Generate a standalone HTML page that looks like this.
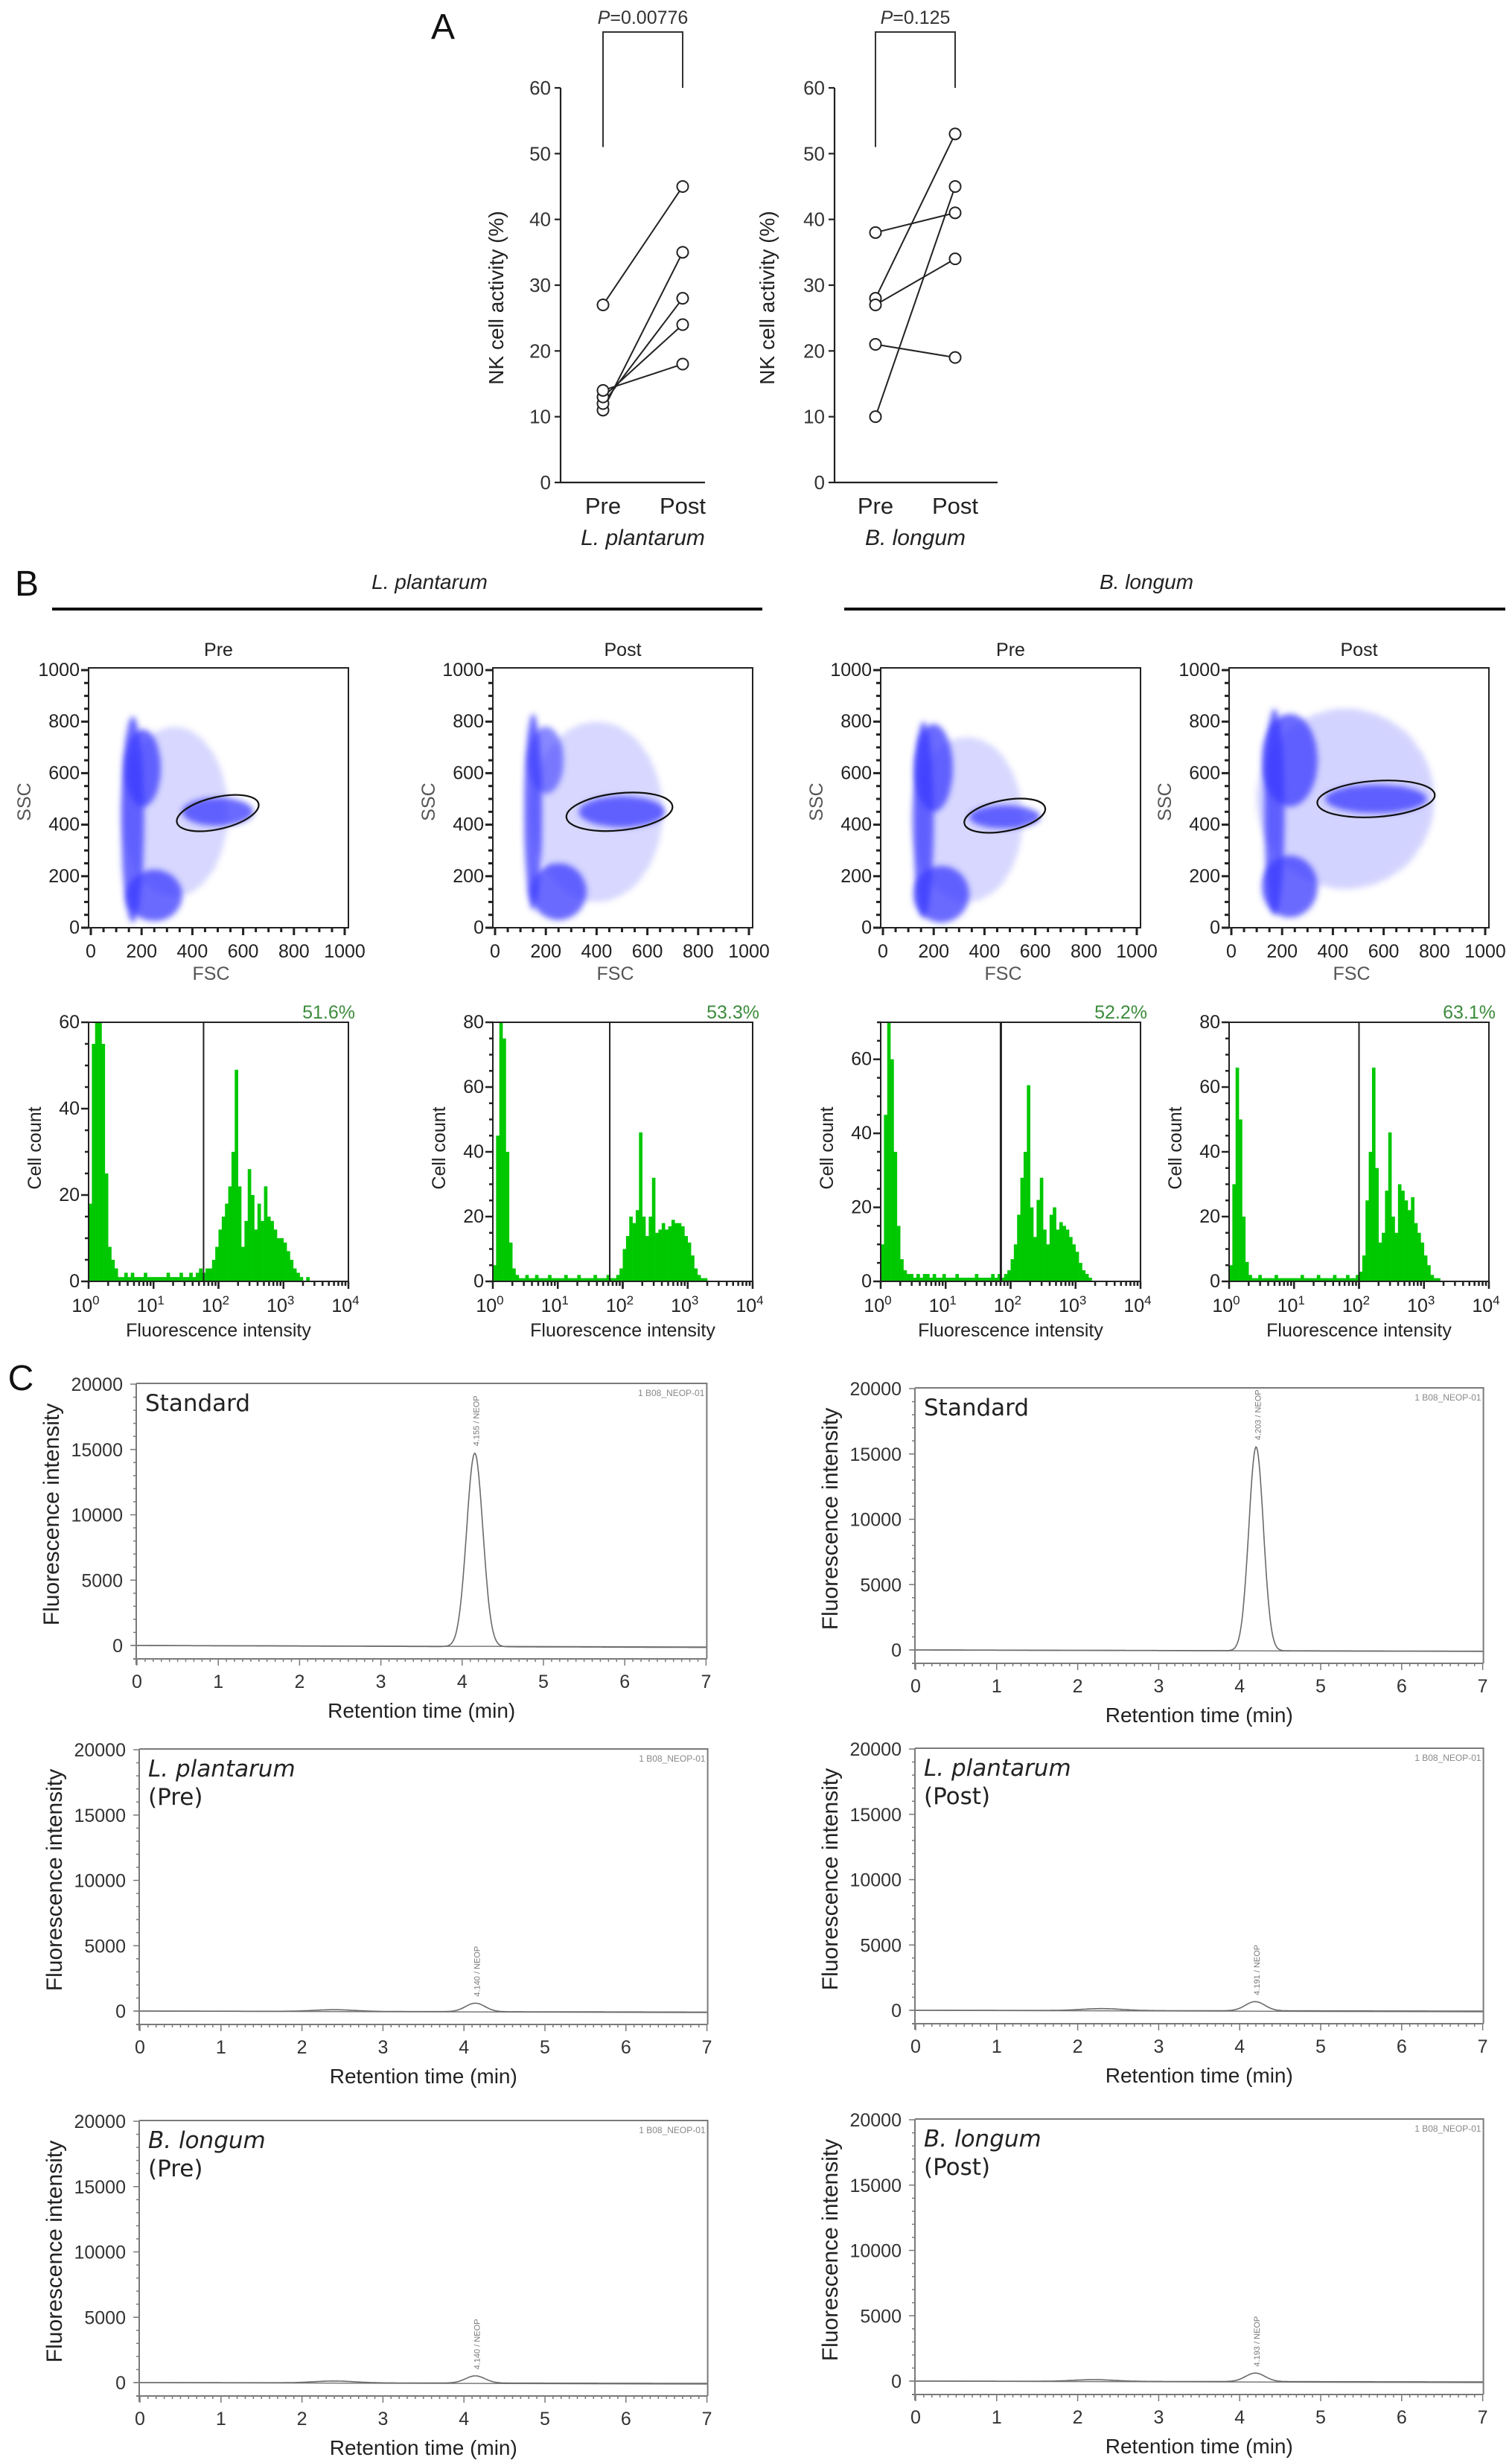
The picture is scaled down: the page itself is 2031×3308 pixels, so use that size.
<!DOCTYPE html>
<html><head><meta charset="utf-8"><title>NK cell activity figure</title>
<style>
html,body{margin:0;padding:0;background:#fff;}
svg{display:block;font-family:"Liberation Sans",Arial,sans-serif;}
</style></head>
<body>
<svg id="fig" xmlns="http://www.w3.org/2000/svg" width="2031" height="3308" viewBox="0 0 2031 3308">
<defs>
<filter id="soft" x="-30%" y="-30%" width="160%" height="160%"><feGaussianBlur stdDeviation="4"/></filter>
<pattern id="dots" width="4" height="4" patternUnits="userSpaceOnUse"><rect width="4" height="4" fill="#4a4aff" opacity="0.55"/><circle cx="2" cy="2" r="1.5" fill="#2a2aff"/></pattern>
<pattern id="sparse" width="7" height="7" patternUnits="userSpaceOnUse"><rect width="7" height="7" fill="#6a6aff" opacity="0.25"/><circle cx="2" cy="2" r="1.4" fill="#3030ff"/><circle cx="5.5" cy="5" r="1.2" fill="#3030ff"/></pattern>
</defs>
</svg>
<script>
// ---------- Panel A data ----------
const aCategories = ['Pre', 'Post'];
const aTicks = [0, 10, 20, 30, 40, 50, 60];
const lpPre = [27, 11, 12, 13, 14];
const lpPost = [45, 35, 28, 24, 18];
const blPre = [38, 28, 27, 21, 10];
const blPost = [41, 53, 34, 19, 45];
const aPvalues = ['0.00776', '0.125'];
// ---------- Panel B data ----------
const scatterTicks = [0, 200, 400, 600, 800, 1000];
const histDecades = [0, 1, 2, 3, 4];
const histPercents = ['51.6%', '53.3%', '52.2%', '63.1%'];
const histYMax = [60, 80, 70, 80];
const histYTicks = [[0, 20, 40, 60], [0, 20, 40, 60, 80], [0, 20, 40, 60], [0, 20, 40, 60, 80]];
const histGates = [1.77, 1.8, 1.85, 2.0];
// 20 bins per decade, log10 from 0 to 4
const histLPpre = [18,55,75,70,55,25,8,5,3,1,1,2,1,2,1,1,1,2,1,1, 1,1,1,1,2,1,1,1,2,1,1,2,1,2,3,2,3,3,5,8, 12,15,18,22,30,49,22,8,14,26,20,12,18,14,22,15,14,12,10,10, 9,7,5,3,2,1,0,1,0,0,0,0,0,0,0,0,0,0,0,0];
const histLPpost = [5,45,85,75,40,12,4,2,1,1,2,1,1,2,1,1,1,2,1,1, 1,1,2,1,1,1,2,1,1,1,1,2,1,1,1,2,1,1,2,4, 10,14,20,18,22,46,20,14,20,32,15,16,18,16,17,19,18,18,17,14, 12,8,4,2,1,1,0,0,0,0,0,0,0,0,0,0,0,0,0,0];
const histBLpre = [10,45,75,60,35,15,6,3,2,2,1,2,1,2,2,1,2,1,1,2, 1,1,1,2,1,1,1,1,1,2,1,1,1,1,2,1,2,1,2,3, 6,10,18,28,35,53,20,12,22,28,14,10,18,20,14,16,15,14,12,10, 8,5,3,2,1,0,0,0,0,0,0,0,0,0,0,0,0,0,0,0];
const histBLpost = [5,30,66,50,20,6,2,1,1,2,1,1,1,1,2,1,1,1,1,1, 1,1,2,1,1,1,1,2,1,1,1,1,2,1,1,1,2,1,1,2, 3,8,25,40,66,35,12,15,28,46,20,15,30,28,25,22,26,18,15,12, 8,5,2,1,1,0,0,0,0,0,0,0,0,0,0,0,0,0,0,0];
// scatter clusters: FSC centre, SSC centre, FSC radius, SSC radius, density
const clLPpre = [[330,450,210,330,0.55],[165,420,45,400,1],[205,620,70,150,1],[500,450,140,55,1],[250,125,110,100,1]];
const clLPpost = [[400,450,260,350,0.55],[150,450,35,380,1],[200,650,70,130,0.8],[500,450,170,60,1],[250,140,110,110,1]];
const clBLpre = [[330,420,220,320,0.55],[160,420,40,380,1],[200,620,75,170,1],[480,430,140,45,1],[230,130,110,110,1]];
const clBLpost = [[450,500,350,350,0.6],[170,450,40,400,1],[230,650,110,180,1],[570,500,200,55,1],[230,160,110,120,1]];
// gate ellipse: FSC centre, SSC centre, FSC radius, SSC radius, angle(deg)
const gateLPpre = [500, 445, 165, 62, -13];
const gateLPpost = [490, 450, 210, 72, -6];
const gateBLpre = [480, 435, 162, 60, -11];
const gateBLpost = [570, 500, 232, 70, -4];
// ---------- Panel C data ----------
const cTicksX = [0, 1, 2, 3, 4, 5, 6, 7];
const cTicksY = [0, 5000, 10000, 15000, 20000];
const peakTimesStdL = [4.155], peakHeightsStdL = [14800], peakWidthsStdL = [0.1];
const peakTimesStdR = [4.203], peakHeightsStdR = [15600], peakWidthsStdR = [0.09];
const peakTimesLPpre = [2.4, 4.14], peakHeightsLPpre = [130, 650], peakWidthsLPpre = [0.25, 0.12];
const peakTimesLPpost = [2.3, 4.191], peakHeightsLPpost = [150, 700], peakWidthsLPpost = [0.25, 0.12];
const peakTimesBLpre = [2.4, 4.14], peakHeightsBLpre = [140, 550], peakWidthsBLpre = [0.25, 0.12];
const peakTimesBLpost = [2.2, 4.193], peakHeightsBLpost = [130, 650], peakWidthsBLpost = [0.25, 0.12];
const peakLabels = ['4.155 / NEOP', '4.203 / NEOP', '4.140 / NEOP', '4.191 / NEOP', '4.140 / NEOP', '4.193 / NEOP'];
const baselineStart = [0, 0, 0, 0, 0, 0];
const baselineEnd = [-150, -100, -80, -60, -60, -60];

const NS = 'http://www.w3.org/2000/svg';
const root = document.getElementById('fig');
function el(tag, attrs, parent, text) {
  const e = document.createElementNS(NS, tag);
  for (const k in attrs) e.setAttribute(k, attrs[k]);
  if (text !== undefined) e.textContent = text;
  (parent || root).appendChild(e);
  return e;
}
function grp(parent) { return el('g', {}, parent); }

// ================= PANEL A =================
const gA = grp();


const aLab = el('text', {x: 595, y: 52, 'font-size': 48, 'text-anchor': 'middle', fill: '#111'}, gA, 'A');



function panelA(axisX, preX, postX, endX, pre, post, pval, species, titleX, name) {
  const g = grp(gA);
  
  
  const y0 = 648, y60 = 118;
  const ys = v => y0 - v * (y0 - y60) / 60;
  const xs = i => i === 0 ? preX : postX;
  const ax = el('path', {d: `M${axisX},${y60} V${y0} H${endX}`, stroke: '#222', 'stroke-width': 2.2, fill: 'none'}, g);
  
  
  aTicks.forEach(t => {
    const tk = el('line', {x1: axisX - 8, x2: axisX, y1: ys(t), y2: ys(t), stroke: '#222', 'stroke-width': 2.2}, g);
    
    
    const tl = el('text', {x: axisX - 13, y: ys(t) + 9, 'font-size': 26, 'text-anchor': 'end', fill: '#333'}, g, String(t));
    
    
  });
  aCategories.forEach((c, i) => {
    const cl = el('text', {x: xs(i), y: 690, 'font-size': 31, 'text-anchor': 'middle', fill: '#222'}, g, c);
    
    
  });
  const sp = el('text', {x: (preX + postX) / 2, y: 732, 'font-size': 30, 'font-style': 'italic', 'text-anchor': 'middle', fill: '#222'}, g, species);
  
  
  const yt = el('text', {x: titleX, y: 400, 'font-size': 28, 'text-anchor': 'middle', fill: '#222', transform: `rotate(-90 ${titleX} 400)`}, g, 'NK cell activity (%)');
  
  
  const br = el('path', {d: `M${preX},${ys(51)} V43 H${postX} V${y60}`, stroke: '#333', 'stroke-width': 2, fill: 'none'}, g);
  
  
  const pt = el('text', {x: (preX + postX) / 2, y: 32, 'font-size': 25, 'text-anchor': 'middle', fill: '#333'}, g);
  
  
  el('tspan', {'font-style': 'italic'}, pt, 'P');
  el('tspan', {}, pt, '=' + pval);
  pre.forEach((v, i) => {
    const ln = el('line', {x1: xs(0), y1: ys(v), x2: xs(1), y2: ys(post[i]), stroke: '#222', 'stroke-width': 2}, g);
    
    
  });
  pre.forEach((v, i) => {
    [v, post[i]].forEach((val, j) => {
      const c = el('circle', {cx: xs(j), cy: ys(val), r: 7.5, fill: '#fff', stroke: '#222', 'stroke-width': 2}, g);
      
      
    });
  });
}
panelA(753, 810, 917, 947, lpPre, lpPost, aPvalues[0], 'L. plantarum', 676, 'nk-plot-l-plantarum');
panelA(1121, 1176, 1283, 1340, blPre, blPost, aPvalues[1], 'B. longum', 1040, 'nk-plot-b-longum');

// ================= PANEL B =================
const gB = grp();


const bLab = el('text', {x: 36, y: 800, 'font-size': 48, 'text-anchor': 'middle', fill: '#111'}, gB, 'B');


[[577, 70, 1024, 'L. plantarum'], [1540, 1134, 2022, 'B. longum']].forEach(s => {
  const t = el('text', {x: s[0], y: 791, 'font-size': 28, 'font-style': 'italic', 'text-anchor': 'middle', fill: '#222'}, gB, s[3]);
  
  
  const l = el('line', {x1: s[1], x2: s[2], y1: 818, y2: 818, stroke: '#111', 'stroke-width': 4}, gB);
  
  
});

const boxLefts = [119, 662, 1183, 1651];
const BW = 349;
const scTop = 897, scBot = 1246;
function scatter(L, title, clusters, gate) {
  const g = grp(gB);
  
  
  const sx = v => L + 3 + v * 0.341;
  const sy = v => scBot - v * 0.346;
  const cp = 'clip' + L;
  const cpe = el('clipPath', {id: cp}, g);
  el('rect', {x: L, y: scTop, width: BW, height: scBot - scTop}, cpe);
  const dg = el('g', {'clip-path': `url(#${cp})`}, g);
  clusters.forEach((c, k) => {
    const e = el('ellipse', {cx: sx(c[0]), cy: sy(c[1]), rx: c[2] * 0.341, ry: c[3] * 0.346, fill: k === 0 ? 'url(#sparse)' : 'url(#dots)', opacity: c[4], filter: 'url(#soft)'}, dg);
    
    
  });
  const ge = el('ellipse', {cx: sx(gate[0]), cy: sy(gate[1]), rx: gate[2] * 0.341, ry: gate[3] * 0.346, fill: 'none', stroke: '#111', 'stroke-width': 2.2, transform: `rotate(${gate[4]} ${sx(gate[0])} ${sy(gate[1])})`}, g);
  
  
  const bx = el('rect', {x: L, y: scTop, width: BW, height: scBot - scTop, fill: 'none', stroke: '#222', 'stroke-width': 2}, g);
  
  
  for (let v = 0; v <= 1000; v += 50) {
    const big = v % 200 === 0;
    el('line', {x1: sx(v), x2: sx(v), y1: scBot, y2: scBot + (big ? 10 : 6), stroke: '#222', 'stroke-width': 3}, g);
    el('line', {x1: L, x2: L - (big ? 10 : 6), y1: sy(v), y2: sy(v), stroke: '#222', 'stroke-width': 3}, g);
  }
  scatterTicks.forEach(t => {
    const xl = el('text', {x: sx(t), y: 1286, 'font-size': 25, 'text-anchor': 'middle', fill: '#222'}, g, String(t));
    
    
    const yl = el('text', {x: L - 12, y: sy(t) + 8, 'font-size': 25, 'text-anchor': 'end', fill: '#222'}, g, String(t));
    
    
  });
  const tt = el('text', {x: L + BW / 2, y: 881, 'font-size': 25, 'text-anchor': 'middle', fill: '#222'}, g, title);
  
  
  const fx = el('text', {x: L + BW / 2 - 10, y: 1316, 'font-size': 25, 'text-anchor': 'middle', fill: '#555'}, g, 'FSC');
  
  
  const sxT = el('text', {x: L - 78, y: 1077, 'font-size': 25, 'text-anchor': 'middle', fill: '#555', transform: `rotate(-90 ${L - 78} 1077)`}, g, 'SSC');
  
  
}
scatter(boxLefts[0], 'Pre', clLPpre, gateLPpre);
scatter(boxLefts[1], 'Post', clLPpost, gateLPpost);
scatter(boxLefts[2], 'Pre', clBLpre, gateBLpre);
scatter(boxLefts[3], 'Post', clBLpost, gateBLpost);

const hTop = 1373, hBot = 1721;
function histogram(idx, L, bins) {
  const g = grp(gB);
  
  
  const ymax = histYMax[idx];
  const hx = d => L + d * (BW / 4);
  const hy = v => hBot - Math.min(v, ymax) * (hBot - hTop) / ymax;
  const n = bins.length;
  bins.forEach((v, i) => {
    if (v <= 0) return;
    const x0 = hx(i * 4 / n), x1 = hx((i + 1) * 4 / n);
    const r = el('rect', {x: x0, y: hy(v), width: x1 - x0 + 0.3, height: hBot - hy(v), fill: '#00c800'}, g);
    
    
  });
  const gl = el('line', {x1: hx(histGates[idx]), x2: hx(histGates[idx]), y1: hTop, y2: hBot, stroke: '#222', 'stroke-width': idx === 2 ? 3 : 2}, g);
  
  
  const bx = el('rect', {x: L, y: hTop, width: BW, height: hBot - hTop, fill: 'none', stroke: '#222', 'stroke-width': 2}, g);
  
  
  for (let d = 0; d < 4; d++) {
    for (let m = 1; m <= 10; m++) {
      const x = hx(d + Math.log10(m));
      el('line', {x1: x, x2: x, y1: hBot, y2: hBot + (m === 1 || m === 10 ? 10 : 6), stroke: '#222', 'stroke-width': 2.5}, g);
    }
  }
  for (let v = 0; v <= ymax; v += 5) {
    el('line', {x1: L, x2: L - (v % 20 === 0 ? 10 : 5), y1: hy(v), y2: hy(v), stroke: '#222', 'stroke-width': 2.5}, g);
  }
  histDecades.forEach(d => {
    const t = el('text', {x: hx(d) - 4, y: 1762, 'font-size': 25, 'text-anchor': 'middle', fill: '#222'}, g);
    
    
    el('tspan', {}, t, '10');
    el('tspan', {'font-size': 17, dy: -10}, t, String(d));
  });
  histYTicks[idx].forEach(v => {
    const t = el('text', {x: L - 12, y: hy(v) + 8, 'font-size': 25, 'text-anchor': 'end', fill: '#222'}, g, String(v));
    
    
  });
  const pc = el('text', {x: L + 358, y: 1368, 'font-size': 25, 'text-anchor': 'end', fill: '#3c8c3c'}, g, histPercents[idx]);
  
  
  const xt = el('text', {x: L + BW / 2, y: 1795, 'font-size': 25, 'text-anchor': 'middle', fill: '#222'}, g, 'Fluorescence intensity');
  
  
  const yt = el('text', {x: L - 64, y: 1542, 'font-size': 25, 'text-anchor': 'middle', fill: '#222', transform: `rotate(-90 ${L - 64} 1542)`}, g, 'Cell count');
  
  
}
histogram(0, boxLefts[0], histLPpre);
histogram(1, boxLefts[1], histLPpost);
histogram(2, boxLefts[2], histBLpre);
histogram(3, boxLefts[3], histBLpost);

// ================= PANEL C =================
const gC = grp();


const cLab = el('text', {x: 28, y: 1867, 'font-size': 48, 'text-anchor': 'middle', fill: '#111'}, gC, 'C');



function chrom(idx, axisX, pxPerMin, top, line1, line2, italic1, times, heights, widths) {
  const g = grp(gC);
  
  
  const zero = top + 351;
  const cx = t => axisX + 1 + t * pxPerMin;
  const cy = v => zero - v * 351 / 20000;
  const xEnd = cx(7);
  const gray = '#7a7a7a';
  const fr = el('path', {d: `M${axisX},${top - 1} H${xEnd + 1} V${zero + 18} M${axisX - 4},${zero + 18} H${xEnd + 1} M${axisX},${top - 1} V${zero + 26}`, stroke: gray, 'stroke-width': 2, fill: 'none'}, g);
  
  
  const zl = el('line', {x1: axisX - 6, x2: xEnd, y1: zero, y2: zero + 2, stroke: gray, 'stroke-width': 1.5}, g);
  
  
  for (let i = 0; i <= 70; i++) {
    const x = cx(i / 10);
    el('line', {x1: x, x2: x, y1: zero + 18, y2: zero + 18 + (i % 10 === 0 ? 9 : 4), stroke: gray, 'stroke-width': 1.5}, g);
  }
  for (let v = 0; v <= 20000; v += 1000) {
    el('line', {x1: axisX, x2: axisX - (v % 5000 === 0 ? 8 : 4), y1: cy(v), y2: cy(v), stroke: gray, 'stroke-width': 1.5}, g);
  }
  cTicksX.forEach(t => {
    const tl = el('text', {x: cx(t), y: zero + 57, 'font-size': 25, 'text-anchor': 'middle', fill: '#333'}, g, String(t));
    
    
  });
  cTicksY.forEach(v => {
    const tl = el('text', {x: axisX - 18, y: cy(v) + 9, 'font-size': 25, 'text-anchor': 'end', fill: '#333'}, g, String(v));
    
    
  });
  const xt = el('text', {x: cx(3.5), y: zero + 97, 'font-size': 28, 'text-anchor': 'middle', fill: '#222'}, g, 'Retention time (min)');
  
  
  const ty = top + 175;
  const yt = el('text', {x: axisX - 104, y: ty, 'font-size': 30, 'text-anchor': 'middle', fill: '#222', transform: `rotate(-90 ${axisX - 104} ${ty})`}, g, 'Fluorescence intensity');
  
  
  const s1 = el('text', {x: axisX + 12, y: top + 36, 'font-size': 31, fill: '#222', 'font-family': '"DejaVu Sans", sans-serif', 'font-style': italic1 ? 'italic' : 'normal'}, g, line1);
  
  
  if (line2) {
    const s2 = el('text', {x: axisX + 12, y: top + 74, 'font-size': 31, fill: '#222', 'font-family': '"DejaVu Sans", sans-serif'}, g, line2);
    
    
  }
  const fid = el('text', {x: xEnd - 2, y: top + 16, 'font-size': 12, 'text-anchor': 'end', fill: '#888'}, g, '1 B08_NEOP-01');
  
  
  let d = '';
  for (let i = 0; i <= 700; i++) {
    const t = i / 100;
    let v = baselineStart[idx] + (baselineEnd[idx] - baselineStart[idx]) * t / 7;
    times.forEach((pt, k) => { v += heights[k] * Math.exp(-0.5 * Math.pow((t - pt) / widths[k], 2)); });
    d += (i ? 'L' : 'M') + cx(t).toFixed(1) + ',' + cy(v).toFixed(1);
  }
  const tr = el('path', {d: d, stroke: '#6a6a6a', 'stroke-width': 1.6, fill: 'none'}, g);
  
  
  const mainK = heights.indexOf(Math.max(...heights));
  const px = cx(times[mainK]) + 6, py = cy(heights[mainK]) - 8;
  const pl = el('text', {x: px, y: py, 'font-size': 11, fill: '#777', transform: `rotate(-90 ${px} ${py})`}, g, peakLabels[idx]);
  
  
}
chrom(0, 183, 109.2, 1859, 'Standard', null, false, peakTimesStdL, peakHeightsStdL, peakWidthsStdL);
chrom(1, 1229, 108.8, 1865, 'Standard', null, false, peakTimesStdR, peakHeightsStdR, peakWidthsStdR);
chrom(2, 187, 108.8, 2350, 'L. plantarum', '(Pre)', true, peakTimesLPpre, peakHeightsLPpre, peakWidthsLPpre);
chrom(3, 1229, 108.8, 2349, 'L. plantarum', '(Post)', true, peakTimesLPpost, peakHeightsLPpost, peakWidthsLPpost);
chrom(4, 187, 108.8, 2849, 'B. longum', '(Pre)', true, peakTimesBLpre, peakHeightsBLpre, peakWidthsBLpre);
chrom(5, 1229, 108.8, 2847, 'B. longum', '(Post)', true, peakTimesBLpost, peakHeightsBLpost, peakWidthsBLpost);
</script>
</body></html>
